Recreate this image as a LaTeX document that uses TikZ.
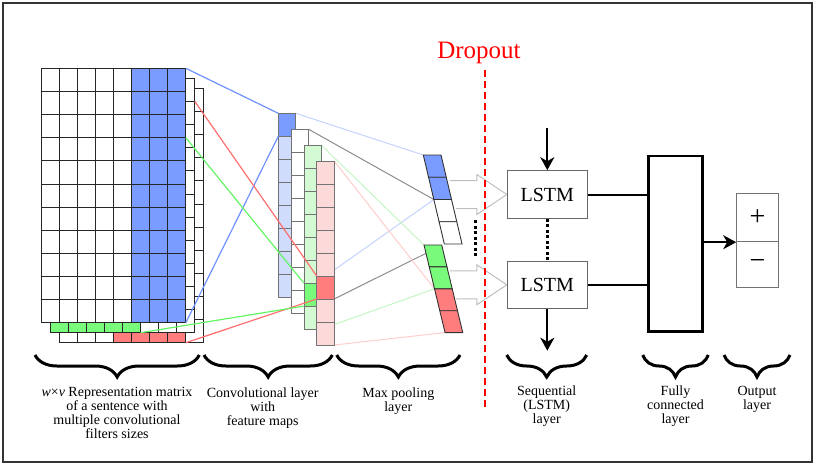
\documentclass[tikz,border=0pt]{standalone}
\usepackage{fontspec}
\setmainfont{Liberation Serif}
\usepackage{tikz}
\usetikzlibrary{arrows.meta,decorations.pathreplacing,backgrounds,calc}

\definecolor{filtblue}{RGB}{122,155,255}
\definecolor{filtgreen}{RGB}{122,250,122}
\definecolor{filtred}{RGB}{255,125,125}
\definecolor{mapblue}{RGB}{208,220,252}
\definecolor{mapgreen}{RGB}{212,250,212}
\definecolor{mapred}{RGB}{253,218,218}
\definecolor{lineblue}{RGB}{110,145,255}
\definecolor{linered}{RGB}{255,110,110}
\definecolor{linegreen}{RGB}{100,245,100}
\definecolor{fadeblue}{RGB}{196,210,255}
\definecolor{fadegreen}{RGB}{196,246,196}
\definecolor{fadered}{RGB}{255,205,205}
\definecolor{fadegray}{RGB}{140,140,140}
\definecolor{hollow}{RGB}{190,190,190}

\begin{document}
\begin{tikzpicture}[x=1pt,y=-1pt]
\tikzstyle{mcell}=[draw=black!85,fill=white,line width=0.9pt,minimum width=18.1pt,minimum height=23.13pt,inner sep=0,outer sep=0,anchor=north west]
\tikzstyle{ccell}=[draw=black!55,fill=white,line width=0.8pt,minimum width=17.4pt,minimum height=23pt,inner sep=0,outer sep=0,anchor=north west]
\tikzstyle{pcell}=[draw=black!80,line width=0.9pt]
\tikzstyle{lstm}=[draw=black!60,line width=1pt,minimum width=80pt,minimum height=47.6pt,inner sep=0,font=\fontsize{20}{22}\selectfont]
\tikzstyle{outbox}=[draw=black!55,line width=1pt,minimum width=41.6pt,inner sep=0,font=\fontsize{28}{30}\selectfont]
\tikzstyle{arr}=[line width=2pt,-{Stealth[length=13pt,width=14pt,inset=4pt]}]
\tikzstyle{dots}=[line width=3pt,dash pattern=on 3pt off 2.5pt]
\tikzstyle{brace}=[decorate,decoration={brace,mirror,amplitude=22pt},line width=3pt]
\tikzstyle{lbl}=[anchor=north,align=center,inner sep=0,font=\fontsize{14}{14}\selectfont]
\useasboundingbox (0,0) rectangle (818,466);
\draw[line width=1.5pt,black!80] (3,3) rectangle (812,462);

% sentence matrices, back one first
\foreach \c in {0,...,7}{
\foreach \r in {0,...,10}{
\node[mcell] (m3-\c-\r) at (59+18.1*\c, 88.3+23.13*\r) {};
}}
\foreach \c in {3,...,6}{
\node[mcell,fill=filtred] (m3-\c-10) at (59+18.1*\c, 88.3+23.13*10) {};
}
\foreach \c in {0,...,7}{
\foreach \r in {0,...,10}{
\node[mcell] (m2-\c-\r) at (50+18.1*\c, 78.3+23.13*\r) {};
}}
\foreach \c in {0,...,4}{
\node[mcell,fill=filtgreen] (m2-\c-10) at (50+18.1*\c, 78.3+23.13*10) {};
}
\foreach \c/\col in {0/white,1/white,2/white,3/white,4/white,5/filtblue,6/filtblue,7/filtblue}{
\foreach \r in {0,...,10}{
\node[mcell,fill=\col] (m1-\c-\r) at (41+18.1*\c, 68.3+23.13*\r) {};
}}

% feature maps
\foreach \i/\lt/\dk/\k in {0/mapblue/filtblue/0,1/white/white/-1,2/mapgreen/filtgreen/6,3/mapred/filtred/5}{
\foreach \j in {0,...,7}{
\ifnum\j=\k \def\fc{\dk}\else\def\fc{\lt}\fi
\node[ccell,fill=\fc] (f\i-\j) at (278.3+12.8*\i, 113.3+15.9*\i+23*\j) {};
}}

% max pooling
\foreach \k in {0,...,4}{
\coordinate (up\k) at (423.3+5.26*\k, 155+22.25*\k);
\coordinate (lo\k) at (424+5.26*\k, 245+21.9*\k);
}
\foreach \k/\col in {0/filtblue,1/filtblue,2/white,3/white}{
\filldraw[pcell,fill=\col] (up\k) -- ++(17.7,0) -- ++(5.26,22.25) -- ++(-17.7,0) -- cycle;
}
\foreach \k/\col in {0/filtgreen,1/filtgreen,2/filtred,3/filtred}{
\filldraw[pcell,fill=\col] (lo\k) -- ++(17.7,0) -- ++(5.26,21.9) -- ++(-17.7,0) -- cycle;
}

\begin{pgfonlayer}{background}
\draw[fadeblue,line width=1pt] (f0-0.north east) -- (up0);
\draw[fadeblue,line width=1pt] (f0-7.south east) -- (up2);
\draw[fadegray,line width=1pt] (f1-0.north east) -- (up2);
\draw[fadegray,line width=1pt] (f3-5.south east) -- ($(lo0)!0.38!(lo1)$);
\draw[fadegreen,line width=1pt] (f2-0.north east) -- (lo0);
\draw[fadegreen,line width=1pt] (f2-7.south east) -- (lo2);
\draw[fadered,line width=1pt] (f3-0.north east) -- (lo2);
\draw[fadered,line width=1pt] (f3-7.south east) -- (lo4);
\end{pgfonlayer}

% filters to feature maps
\draw[lineblue,line width=1.2pt] (m1-7-0.north east) -- (f0-0.north west);
\draw[lineblue,line width=1.2pt] (m1-7-10.south east) -- (f0-0.south west);
\draw[linered,line width=1.2pt] (m2-7-1.north east) -- (f3-5.north west);
\draw[linered,line width=1.2pt] (m3-6-10.south east) -- (f3-5.south west);
\draw[linegreen,line width=1.2pt] (m1-7-3.north east) -- (f2-6.north west);
\draw[linegreen,line width=1.2pt] (m2-4-10.south east) -- (f2-6.south west);

% LSTM part
\node[lstm] (lstm1) at (547.3,194.5) {LSTM};
\node[lstm] (lstm2) at (547.3,284.8) {LSTM};
\foreach \n in {1,2}{
\draw[hollow,line width=1pt] (lstm\n.west) -- ++(-30,-20) -- ++(0,6) -- ++(-27,0);
\draw[hollow,line width=1pt] (lstm\n.west) -- ++(-30,20) -- ++(0,-6) -- ++(-21,0);
}
\coordinate (pd1) at (475,220);
\coordinate (pd2) at (475,258.3);
\draw[dots] (pd1) -- (pd2);
\draw[dots] (lstm1.south) -- (lstm2.north);
\coordinate (lin) at (547.3,128.3);
\coordinate (lout) at (547.3,350.7);
\draw[arr] (lin) -- (lstm1.north);
\draw[arr] (lstm2.south) -- (lout);

\node[draw,line width=2.5pt,minimum width=54.4pt,minimum height=175.7pt,inner sep=0] (fc) at (675.5,243.85) {};
\draw[line width=2pt] (lstm1.east) -- (lstm1.east -| fc.west);
\draw[line width=2pt] (lstm2.east) -- (lstm2.east -| fc.west);
\node[outbox,minimum height=48.4pt] (plus) at (757.5,217.5) {+};
\node[outbox,minimum height=46pt] (minus) at (757.5,264.7) {−};
\draw[arr] (fc.east |- plus.south) -- (plus.south west);

% dropout
\node[red,anchor=base,inner sep=0,font=\fontsize{25}{27}\selectfont] (drop) at (479,58.3) {Dropout};
\coordinate (dtop) at (485,70);
\coordinate (dbot) at (485,406.7);
\draw[red,line width=2pt,dash pattern=on 7pt off 4pt] (dtop) -- (dbot);

% braces and labels
\foreach \a/\b in {35/199.3,204/332.3,336.7/460,506.7/586.7,642.7/708.3,724/790}{
\draw[brace] (\a,355) -- (\b,355);
}
\node[lbl] (l1) at (117,387.5) {\textit{w}×\textit{v} Representation matrix\\of a sentence with\\multiple convolutional\\filters sizes};
\node[lbl] (l2) at (262.7,387.5) {Convolutional layer\\with\\feature maps};
\node[lbl] (l3) at (398.3,387.5) {Max pooling\\layer};
\node[lbl] (l4) at (546.7,386) {Sequential\\(LSTM)\\layer};
\node[lbl] (l5) at (675.5,386) {Fully\\connected\\layer};
\node[lbl] (l6) at (757,386) {Output\\layer};
\end{tikzpicture}
\end{document}
